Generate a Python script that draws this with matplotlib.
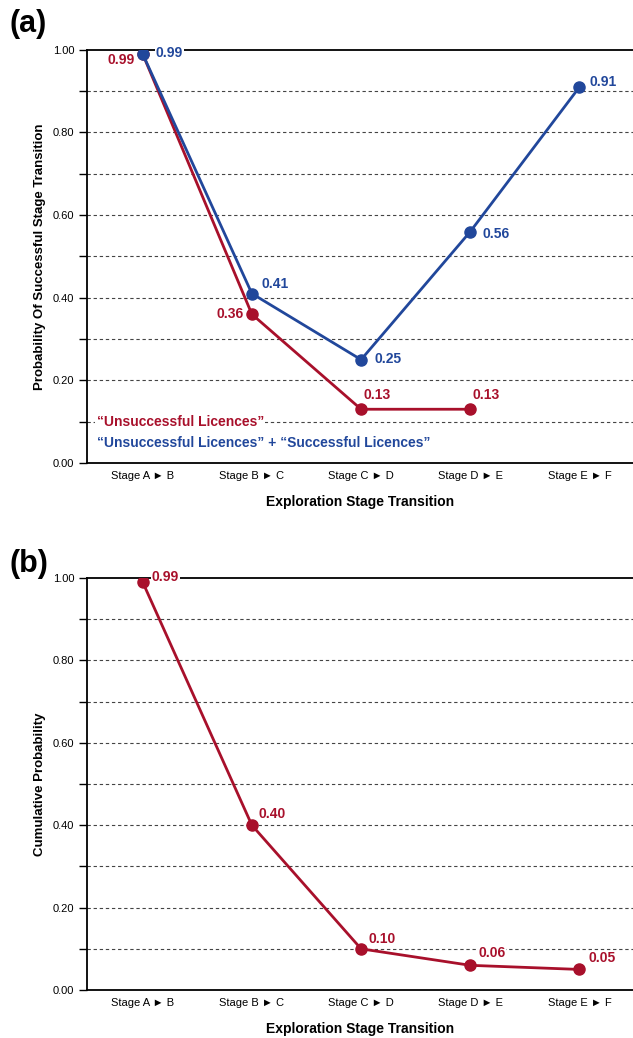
import matplotlib
matplotlib.use("Agg")
import matplotlib.pyplot as plt
import numpy as np

plt.rcParams['font.family'] = ['Liberation Sans', 'DejaVu Sans']

stages = ["Stage A \u25ba B", "Stage B \u25ba C", "Stage C \u25ba D",
          "Stage D \u25ba E", "Stage E \u25ba F"]

# panel (a): stage transition probabilities
unsuccessful = [0.99, 0.36, 0.13, 0.13]
combined = [0.99, 0.41, 0.25, 0.56, 0.91]
# panel (b): cumulative probability
cumulative = [0.99, 0.40, 0.10, 0.06, 0.05]

RED = '#a8102b'
BLUE = '#21479b'

fig = plt.figure(figsize=(6.33, 10.38), dpi=100)
ax1 = fig.add_axes([0.1374, 0.554, 0.8626, 0.398])
ax2 = fig.add_axes([0.1374, 0.0462, 0.8626, 0.397])


def style_axes(ax, ylabel):
    ax.set_xlim(-0.51, 4.49)
    ax.set_ylim(0, 1.0)
    ax.set_xticks(range(len(stages)))
    ax.set_xticklabels(stages, fontsize=8)
    ax.tick_params(axis='x', length=0, pad=6)
    ax.set_yticks(np.arange(0, 1.01, 0.2))
    ax.set_yticks(np.arange(0.1, 1.0, 0.2), minor=True)
    ax.set_yticklabels(['%.2f' % v for v in np.arange(0, 1.01, 0.2)], fontsize=8)
    ax.tick_params(axis='y', which='both', length=6, width=1.0, pad=3)
    for v in np.arange(0.1, 1.0, 0.1):
        ax.axhline(v, color='#444444', lw=0.8, ls=(0, (3, 2.5)), zorder=0)
    ax.spines['right'].set_visible(False)
    for s in ['left', 'bottom', 'top']:
        ax.spines[s].set_linewidth(1.3)
    ax.set_xlabel('Exploration Stage Transition', fontsize=10, fontweight='bold', labelpad=10)
    ax.set_ylabel(ylabel, fontsize=9.5, fontweight='bold', labelpad=5)


def label(ax, x, y, text, color, dx, dy, ha='left'):
    ax.annotate(text, (x, y), xytext=(dx, dy), textcoords='offset pixels',
                ha=ha, va='center', fontsize=10, fontweight='bold', color=color,
                bbox=dict(facecolor='white', edgecolor='none', pad=0.5), zorder=5)


# (a)
x_red = np.arange(len(unsuccessful))
x_blue = np.arange(len(combined))
ax1.plot(x_red, unsuccessful, color=RED, lw=2, marker='o', ms=8, zorder=3)
ax1.plot(x_blue, combined, color=BLUE, lw=2, marker='o', ms=8, zorder=4)
style_axes(ax1, 'Probability Of Successful Stage Transition')

label(ax1, 0, unsuccessful[0], '%.2f' % unsuccessful[0], RED, -8, -6, ha='right')
label(ax1, 1, unsuccessful[1], '%.2f' % unsuccessful[1], RED, -8, 0, ha='right')
label(ax1, 2, unsuccessful[2], '%.2f' % unsuccessful[2], RED, 2, 14)
label(ax1, 3, unsuccessful[3], '%.2f' % unsuccessful[3], RED, 2, 14)

blue_offsets = [(13, 1), (10, 10), (13, 1), (12, -2), (10, 5)]
for i, v in enumerate(combined):
    label(ax1, i, v, '%.2f' % v, BLUE, *blue_offsets[i])

legend_box = dict(facecolor='white', edgecolor='none', pad=1)
ax1.text(0.018, 0.099, '\u201cUnsuccessful Licences\u201d', transform=ax1.transAxes,
         color=RED, fontsize=10, fontweight='bold', va='center', bbox=legend_box)
ax1.text(0.018, 0.048, '\u201cUnsuccessful Licences\u201d + \u201cSuccessful Licences\u201d',
         transform=ax1.transAxes, color=BLUE, fontsize=10, fontweight='bold', va='center')

# (b)
ax2.plot(range(len(cumulative)), cumulative, color=RED, lw=2, marker='o', ms=8, zorder=3)
style_axes(ax2, 'Cumulative Probability')
b_offsets = [(9, 5), (7, 11), (7, 10), (8, 12), (9, 11)]
for i, v in enumerate(cumulative):
    label(ax2, i, v, '%.2f' % v, RED, *b_offsets[i])

fig.text(0.015, 0.977, '(a)', fontsize=22, fontweight='bold', va='center')
fig.text(0.015, 0.457, '(b)', fontsize=22, fontweight='bold', va='center')

fig.savefig('out.png', dpi=100)
